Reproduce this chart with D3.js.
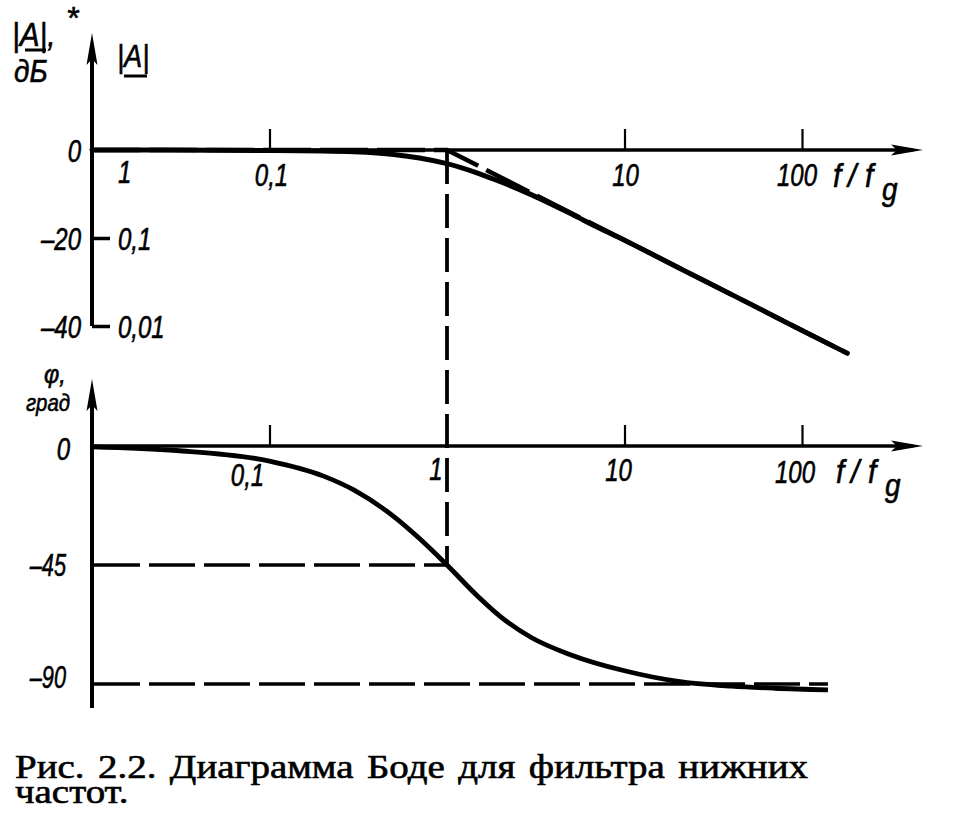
<!DOCTYPE html>
<html>
<head>
<meta charset="utf-8">
<script src="https://cdn.jsdelivr.net/npm/d3@7"></script>
<style>
  body { margin: 0; background: #fff; }
  svg { display: block; }
</style>
</head>
<body>
<script>
// magnitude |A| in dB
const magFreq = [0.01, 0.1, 0.2, 0.3, 0.5, 0.7, 1, 1.5, 2, 3, 5, 7, 10, 20, 50, 100, 180]
const magDb   = [0, -0.1, -0.2, -0.4, -1.0, -1.8, -3.1, -5.3, -7.2, -10.2, -14.5, -17.5, -20.5, -26.7, -34.8, -41.0, -46.2]
// straight-line asymptote
const asymFreq = [0.01, 1, 180]
const asymDb   = [0, 0, -46.2]
// phase in degrees
const phaseFreq = [0.01, 0.03, 0.1, 0.2, 0.3, 0.5, 0.7, 1, 1.5, 2, 3, 5, 10, 20, 40, 70, 140]
const phaseDeg  = [-0.3, -1.7, -5.7, -11.3, -16.7, -26.6, -35, -45, -57, -64.5, -72.5, -79, -85, -89, -90.8, -91.6, -92.2]

const freqTicks = [0.1, 1, 10, 100]
const topFreqLabels = ['0,1', '', '10', '100']
const bottomFreqLabels = ['0,1', '1', '10', '100']
const dbTicks = [0, -20, -40]
const dbLabels = ['0', '–20', '–40']
const ampLabels = ['1', '0,1', '0,01']
const phaseTicks = [0, -45, -90]
const phaseLabels = ['0', '–45', '–90']
const caption = ['Рис. 2.2. Диаграмма Боде для фильтра нижних', 'частот.']

const W = 967, H = 815
const svg = d3.select('body').append('svg').attr('width', W).attr('height', H)
svg.append('rect').attr('width', W).attr('height', H).attr('fill', '#fff')

const x = d3.scaleLog().domain([0.01, 100]).range([92, 802])
const yMag = d3.scaleLinear().domain([0, -40]).range([150, 326])
const yPh = d3.scaleLinear().domain([0, -90]).range([446, 684])
const xEnd = 923

const LF = "'Liberation Sans', Arial, sans-serif"
// italic, squeezed label like the drawing lettering
function label(parent, px, py, txt, anchor, size, sx) {
  return parent.append('text')
    .attr('transform', `translate(${px},${py}) scale(${sx || 0.75},1)`)
    .attr('text-anchor', anchor || 'start')
    .style('font-family', LF).style('font-style', 'italic')
    .style('font-size', (size || 32) + 'px').attr('fill', '#000')
    .attr('stroke', '#000').attr('stroke-width', 0.6)
    .text(txt)
}

function arrow(tx, ty, dir) {
  // slim arrow head, tip at (tx,ty)
  const L = 32, w = 5.5
  if (dir === 'up') return `M${tx},${ty} L${tx - w},${ty + L} L${tx},${ty + L - 6} L${tx + w},${ty + L} Z`
  return `M${tx},${ty} L${tx - L},${ty - w} L${tx - L + 6},${ty} L${tx - L},${ty + w} Z`
}

const line = d3.line()

// ---------- top panel: magnitude ----------
const magG = svg.append('g')
magG.append('line').attr('x1', x(0.01)).attr('x2', xEnd - 10).attr('y1', yMag(0)).attr('y2', yMag(0))
  .attr('stroke', '#000').attr('stroke-width', 3.5)
magG.append('line').attr('x1', x(0.01)).attr('x2', x(0.01)).attr('y1', 50).attr('y2', yMag(-40))
  .attr('stroke', '#000').attr('stroke-width', 4)
magG.append('path').attr('d', arrow(x(0.01), 33, 'up')).attr('fill', '#000')
magG.append('path').attr('d', arrow(xEnd, yMag(0), 'right')).attr('fill', '#000')

magG.append('g').attr('transform', `translate(0,${yMag(0)})`)
  .call(d3.axisTop(x).tickValues([0.1, 10, 100]).tickSize(21).tickFormat(''))
  .call(g => g.select('.domain').remove())
  .selectAll('line').attr('stroke', '#000').attr('stroke-width', 2.2)

magG.append('g').attr('transform', `translate(${x(0.01)},0)`)
  .call(d3.axisRight(yMag).tickValues([-20, -40]).tickSize(18).tickFormat(''))
  .call(g => g.select('.domain').remove())
  .selectAll('line').attr('stroke', '#000').attr('stroke-width', 3.5)

dbTicks.forEach((d, i) => label(magG, 81, yMag(d) + 12, dbLabels[i], 'end'))
dbTicks.forEach((d, i) => label(magG, 118, yMag(d) + (i === 0 ? 33 : 12), ampLabels[i]))
const topOff = [2, 0, 1, -5]
freqTicks.forEach((d, i) => label(magG, x(d) + topOff[i], yMag(0) + 36, topFreqLabels[i], 'middle'))

// asymptote (dashed) and real curve
magG.append('path').datum(asymFreq.map((f, i) => [x(f), yMag(asymDb[i])]))
  .attr('d', line).attr('fill', 'none').attr('stroke', '#000').attr('stroke-width', 4.5)
  .attr('stroke-dasharray', '48,9')
magG.append('path').datum(magFreq.map((f, i) => [x(f), yMag(magDb[i])]))
  .attr('d', d3.line().curve(d3.curveMonotoneX)).attr('fill', 'none').attr('stroke', '#000')
  .attr('stroke-width', 5).attr('stroke-linecap', 'round')

// ---------- bottom panel: phase ----------
const phG = svg.append('g')
phG.append('line').attr('x1', x(0.01)).attr('x2', xEnd - 10).attr('y1', yPh(0)).attr('y2', yPh(0))
  .attr('stroke', '#000').attr('stroke-width', 3.5)
phG.append('line').attr('x1', x(0.01)).attr('x2', x(0.01)).attr('y1', 395).attr('y2', 708)
  .attr('stroke', '#000').attr('stroke-width', 4)
phG.append('path').attr('d', arrow(x(0.01), 379, 'up')).attr('fill', '#000')
phG.append('path').attr('d', arrow(xEnd, yPh(0), 'right')).attr('fill', '#000')

phG.append('g').attr('transform', `translate(0,${yPh(0)})`)
  .call(d3.axisTop(x).tickValues([0.1, 10, 100]).tickSize(21).tickFormat(''))
  .call(g => g.select('.domain').remove())
  .selectAll('line').attr('stroke', '#000').attr('stroke-width', 2.2)

const phDy = [14, 11, 4]
phaseTicks.forEach((d, i) => label(phG, i === 0 ? 70 : 66, yPh(d) + phDy[i], phaseLabels[i], 'end', 32, i === 0 ? 0.75 : 0.68))
const botOff = [-22, -11, -6, -7]
const botDy = [40, 34, 35, 37]
freqTicks.forEach((d, i) => label(phG, x(d) + botOff[i], yPh(0) + botDy[i], bottomFreqLabels[i], 'middle'))

// guide lines
phG.selectAll('.hd').data([-45, -90]).enter().append('line')
  .attr('x1', x(0.01) + 2).attr('x2', d => d === -45 ? x(1) : x(140))
  .attr('y1', d => yPh(d)).attr('y2', d => yPh(d))
  .attr('stroke', '#000').attr('stroke-width', 3.3).attr('stroke-dasharray', '46,9')
svg.append('line').attr('x1', x(1)).attr('x2', x(1)).attr('y1', yMag(0)).attr('y2', yPh(-45))
  .attr('stroke', '#000').attr('stroke-width', 3.8).attr('stroke-dasharray', '34,10')

phG.append('path').datum(phaseFreq.map((f, i) => [x(f), yPh(phaseDeg[i])]))
  .attr('d', d3.line().curve(d3.curveMonotoneX)).attr('fill', 'none').attr('stroke', '#000')
  .attr('stroke-width', 4.8)

// ---------- axis names ----------
function fOverFg(g, x0, y0) {
  label(g, x0, y0, 'f', 'start', 33, 0.9)
  label(g, x0 + 15, y0, '/', 'start', 33, 0.9)
  label(g, x0 + 32, y0, 'f', 'start', 33, 0.9)
  label(g, x0 + 49, y0 + 13, 'g', 'start', 31, 0.9)
}
fOverFg(magG, 833, yMag(0) + 37)
fOverFg(phG, 836, yPh(0) + 37)

// |A|, дБ  and  |A|
label(svg, 12, 46, '|A|,', 'start', 33, 0.9)
label(svg, 66, 29, '*', 'start', 32, 1)
svg.append('line').attr('x1', 25).attr('x2', 46).attr('y1', 50).attr('y2', 50).attr('stroke', '#000').attr('stroke-width', 3)
label(svg, 14, 82, 'дБ', 'start', 31, 0.9)
label(svg, 117, 67, '|A|', 'start', 32, 0.85)
svg.append('line').attr('x1', 124).attr('x2', 147).attr('y1', 76).attr('y2', 76).attr('stroke', '#000').attr('stroke-width', 3)

label(svg, 44, 383, 'φ,', 'start', 26, 0.9)
label(svg, 26, 411, 'град', 'start', 24, 0.85)

// ---------- caption ----------
const capSx = 1.18
const capT = svg.selectAll('.cap').data(caption).enter().append('text').attr('class', 'cap')
  .attr('transform', (d, i) => `translate(15,${778 + i * 25}) scale(${capSx},1)`)
  .style('font-family', "'Liberation Serif', 'Times New Roman', serif").style('font-size', '33px')
  .attr('fill', '#000').attr('stroke', '#000').attr('stroke-width', 0.6)
  .text(d => d)
// justify first line by widening the word gaps
const first = capT.filter((d, i) => i === 0)
const natW = first.node().getComputedTextLength()
const gaps = caption[0].split(' ').length - 1
first.style('word-spacing', Math.max(0, (793 / capSx - natW) / gaps) + 'px')
</script>
</body>
</html>
